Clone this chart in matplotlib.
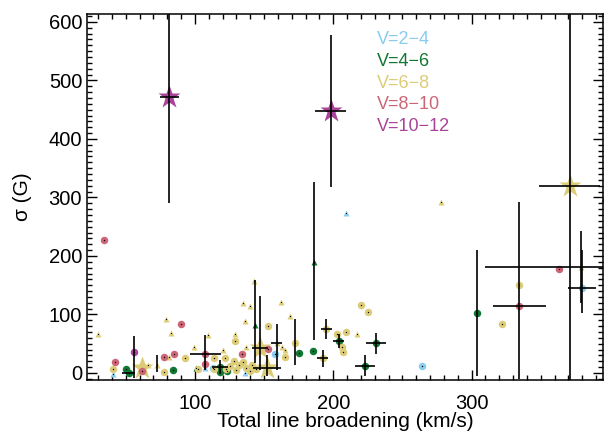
import numpy as np
import matplotlib.pyplot as plt
from matplotlib.ticker import MultipleLocator

plt.rcParams['font.family'] = ['Liberation Sans', 'DejaVu Sans']

# ----- Colours per V magnitude bin -----
labels = ["V=2\u22124", "V=4\u22126", "V=6\u22128", "V=8\u221210", "V=10\u221212"]
colors = ["#88CCEE", "#117733", "#DDCC77", "#CC6677", "#AA4499"]

# ----- Circles (x = total broadening km/s, y = sigma G) -----
circ_x = [
    [158, 264, 113, 380],                                   # V=2-4
    [50, 52, 84.5, 118, 123, 175, 185, 304, 204, 231, 223, 118],  # V=4-6
    [41, 78, 93, 102, 114, 122, 114, 122.6, 129, 128, 132, 137, 140, 144,
     125, 130, 135, 141, 152.6, 165, 172.5, 192.4, 195, 203, 206.4, 207,
     209, 220, 225, 321.6, 334.4],                          # V=6-8
    [42, 61.5, 77.5, 85.2, 90, 107.5, 107, 134.2, 153, 334.4, 363.5, 34],  # V=8-10
    [56],                                                   # V=10-12
]
circ_y = [
    [32, 12.5, 8, 146],
    [7, 0, 5, 2, 3, 34, 38, 103, 55, 51, 12, 10],
    [7, 2, 25, 6, 25, 25, 7, 7, 55, 21, 14, 8, 4, 7,
     12, 5, 18, 14, 80, 27, 52, 25, 75, 67, 44, 35,
     70, 116, 104, 84, 151],
    [18, 4, 27, 32.5, 83, 33, 16, 32, 40.5, 115, 177, 227],
    [35],
]

# ----- Triangles -----
tri_x = [
    [41, 136, 209, 107],
    [100.7, 143.4, 185.8, 395.5],
    [30, 66, 72.6, 79, 83, 81.5, 99, 109.5, 120, 128.9, 135, 140, 142.7,
     136, 137, 162, 169, 163, 165, 217, 278, 379, 159],
    [],
    [],
]
tri_y = [
    [-2, 0, 273, 8],
    [8, 82, 190, 298],
    [66, 14, 14, 92, 69, 27, 45, 65, 39, 67, 120, 115, 158,
     88, 45, 121, 98, 45, 40, 67, 291.5, 181, 52],
    [],
    [],
]

# ----- Stars -----
star_x = [[], [], [62, 147, 152, 370.8], [], [81.6, 198]]
star_y = [[], [], [8, 43, 8, 320], [], [471, 447]]

# ----- Error bars -----
eb_x = [81.6, 198, 370.8, 379, 380, 334.4, 334.4, 304, 185.8, 143.4, 147, 152,
        159, 172.5, 192.4, 195, 204, 231, 223, 118, 107.5, 56, 72.6, 52]
eb_y = [471, 447, 320, 181, 146, 151, 115, 103, 190, 82, 43, 8,
        52, 52, 25, 75, 55, 51, 12, 10, 33, 35, 14, 0]
eb_xerr = [6.6, 11, 22, 69, 10, 0, 19, 0, 0, 0, 6, 10,
           4, 0, 4, 4, 4, 7, 7, 6, 11, 0, 0, 5]
eb_ylo = [180, 129, 340, 61, 44, 162, 0, 108, 134, 65, 38, 14,
          47, 38, 14, 17, 12, 18, 18, 12, 28, 44, 12, 0]
eb_yhi = [180, 130, 340, 61, 64, 141, 0, 108, 136, 77, 89, 23,
          32, 40, 14, 17, 12, 18, 18, 12, 32, 28, 17, 0]

fig = plt.figure(figsize=(6.05, 4.33), dpi=100)
ax = fig.add_axes([0.1438, 0.1224, 0.853, 0.8446])

for i in range(5):
    ax.plot(circ_x[i], circ_y[i], 'o', color=colors[i], ms=5.4, mec='none', zorder=2)
    ax.plot(circ_x[i], circ_y[i], 'o', color='k', ms=1.0, mec='none', zorder=3)
    if tri_x[i]:
        ax.plot(tri_x[i], tri_y[i], '^', color=colors[i], ms=4.5, mec='none', zorder=2)
        ax.plot(tri_x[i], tri_y[i], 'o', color='k', ms=0.9, mec='none', zorder=3)
    if star_x[i]:
        ax.plot(star_x[i], star_y[i], '*', color=colors[i], ms=17, mec='none', zorder=2)

ax.errorbar(eb_x, eb_y, xerr=eb_xerr, yerr=[eb_ylo, eb_yhi], fmt='none',
            ecolor='k', elinewidth=1.2, capsize=0, zorder=4)

ax.set_xlim(22, 395)
ax.set_ylim(-12, 613)
ax.xaxis.set_major_locator(MultipleLocator(100))
ax.xaxis.set_minor_locator(MultipleLocator(10))
ax.yaxis.set_major_locator(MultipleLocator(100))
ax.yaxis.set_minor_locator(MultipleLocator(10))
ax.tick_params(which='both', direction='in', top=True, right=True, width=1.0)
ax.tick_params(which='major', length=7)
ax.tick_params(which='minor', length=3.5)
ax.tick_params(axis='x', which='major', pad=10, labelsize=14.5)
ax.tick_params(axis='y', which='major', pad=3.5, labelsize=14.5)
for s in ax.spines.values():
    s.set_linewidth(1.1)

ax.set_xlabel("Total line broadening (km/s)", fontsize=15, labelpad=-1)
fig.text(22 / 605, 0.545, "\u03c3 (G)", rotation=90, ha='center', va='center', fontsize=15)

for i, lab in enumerate(labels):
    ax.text(0.562, 0.93 - i * 0.0593, lab, color=colors[i], fontsize=13,
            ha='left', va='center', transform=ax.transAxes)

plt.savefig("out.png", dpi=100)
